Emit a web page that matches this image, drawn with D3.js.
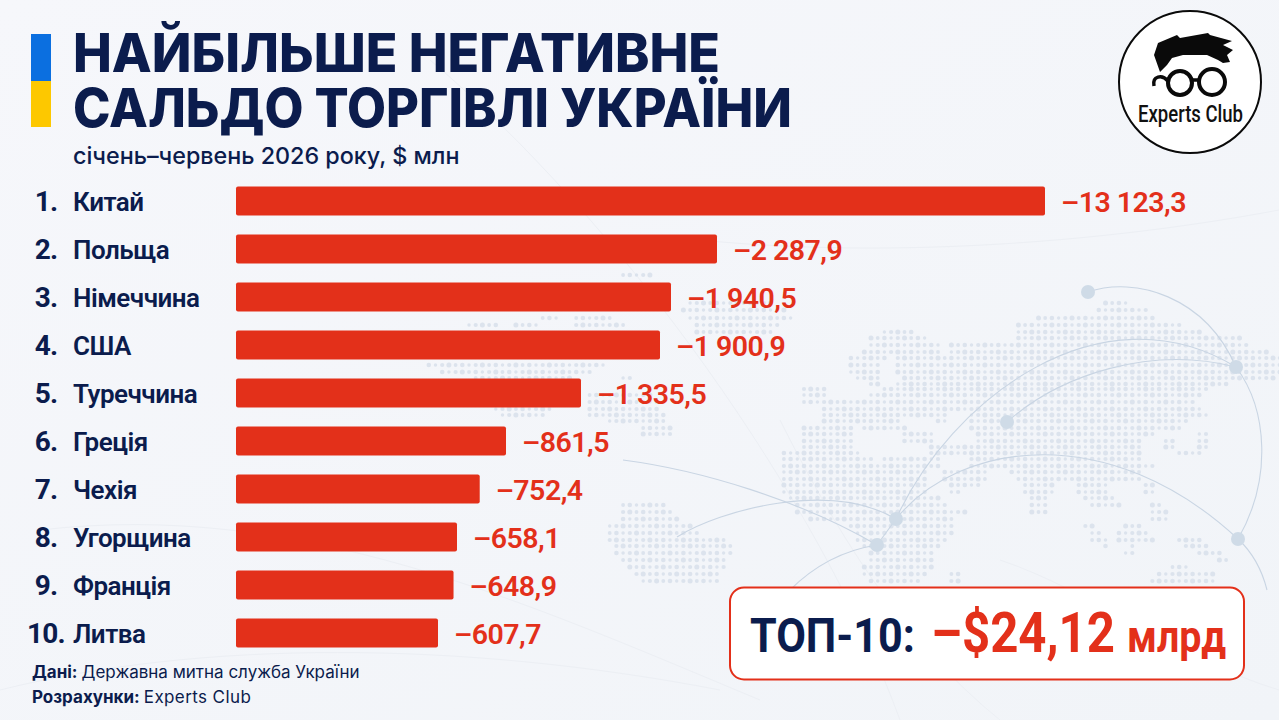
<!DOCTYPE html>
<html lang="uk">
<head>
<meta charset="utf-8">
<script src="https://cdn.jsdelivr.net/npm/d3@7"></script>
<style>
  html, body { margin: 0; padding: 0; background: #f4f6fa; }
  svg { display: block; }
</style>
</head>
<body>
<div id="chart"></div>
<script>
// DATA
const ranks = ["1.", "2.", "3.", "4.", "5.", "6.", "7.", "8.", "9.", "10."];
const countries = ["Китай", "Польща", "Німеччина", "США", "Туреччина", "Греція", "Чехія", "Угорщина", "Франція", "Литва"];
const balances = [-13123.3, -2287.9, -1940.5, -1900.9, -1335.5, -861.5, -752.4, -658.1, -648.9, -607.7];

const titleLines = ["НАЙБІЛЬШЕ НЕГАТИВНЕ", "САЛЬДО ТОРГІВЛІ УКРАЇНИ"];
const titleWidths = [647, 719];
const subtitle = "січень–червень 2026 року, $ млн";

// the picture's bars are not linear in the value, so the scale is piecewise
const scaleKnots = [0, 607.7, 658.1, 861.5, 1335.5, 1900.9, 1940.5, 2287.9, 13123.3];
const scaleLengths = [0, 202, 221, 270, 345, 424, 435, 481, 809];

const totalParts = ["ТОП-10:", "–$24,12", "млрд"];
const totalX = [750, 931, 1127];
const totalWidths = [165, 184, 99];
const totalSizes = [49, 55, 44];

// background map, rows of [y, x0, x1, x0, x1, ...]
const mapRows = [
  [275, 620, 647], [303, 690, 770, 1103, 1127], [310, 685, 785, 1097, 1143],
  [318, 543, 553, 573, 613, 690, 790, 1040, 1150], [325, 472, 497, 513, 537, 573, 623, 700, 780, 1020, 1177],
  [332, 700, 770, 883, 913, 1020, 1197], [338, 870, 927, 1020, 1240], [345, 870, 940, 953, 1243],
  [352, 863, 937, 953, 1267], [358, 850, 887, 897, 1279], [365, 430, 600, 850, 880, 897, 1279],
  [372, 440, 587, 850, 880, 897, 1279], [378, 473, 570, 620, 633, 857, 880, 903, 1270],
  [384, 870, 877, 897, 1227], [389, 807, 825, 887, 1203], [395, 590, 650, 807, 825, 870, 1197],
  [402, 590, 655, 807, 830, 840, 1193], [409, 497, 547, 587, 657, 827, 1197],
  [415, 500, 540, 590, 660, 827, 943, 970, 1203], [421, 610, 663, 827, 897, 940, 947, 970, 1183],
  [428, 640, 670, 807, 850, 863, 903, 970, 1180], [434, 640, 670, 807, 850, 903, 933, 977, 1153, 1197, 1207],
  [441, 807, 850, 903, 933, 977, 1137, 1167, 1170, 1200, 1203], [447, 807, 850, 933, 1140, 1167, 1170, 1200, 1203],
  [453, 787, 860, 930, 1140, 1180, 1200], [459, 787, 870, 883, 937, 970, 1140],
  [466, 787, 937, 970, 1150], [472, 787, 927, 947, 987, 1010, 1140], [479, 787, 927, 947, 983, 1020, 1140],
  [485, 787, 923, 950, 980, 1027, 1053, 1080, 1107, 1147, 1150], [492, 787, 923, 950, 960, 1027, 1050, 1080, 1107, 1147, 1150],
  [498, 790, 937, 1030, 1047, 1087, 1113], [505, 625, 660, 795, 943, 1033, 1043, 1090, 1117, 1153, 1157],
  [512, 620, 670, 800, 943, 953, 967, 1033, 1043, 1153, 1163], [519, 620, 680, 810, 950, 1153, 1163],
  [526, 612, 690, 853, 950, 1087, 1093, 1127, 1140], [533, 610, 695, 857, 950, 1090, 1100, 1117, 1147],
  [540, 612, 725, 857, 943, 1090, 1103, 1117, 1150, 1177, 1200], [546, 615, 730, 863, 937, 1103, 1107, 1130, 1133, 1183, 1207],
  [553, 617, 730, 870, 933, 1123, 1133, 1197, 1220], [560, 625, 725, 870, 933, 1220, 1227],
  [567, 630, 725, 863, 930, 1170, 1187], [574, 635, 720, 863, 923, 950, 960, 1160, 1213],
  [581, 640, 720, 870, 920, 950, 960, 1153, 1213]
];

// flight style arcs on the map
const arcPaths = [
  "M1088,292 C1135,276 1205,296 1236,367",
  "M1236,367 C1268,410 1272,480 1238,539",
  "M1238,539 C1252,552 1262,570 1267,590",
  "M1007,422 C1060,375 1150,345 1236,367",
  "M896,519 C950,400 1100,285 1236,367",
  "M896,519 C960,440 1110,420 1238,539",
  "M896,519 L877,545",
  "M790,590 C815,565 845,550 877,545",
  "M623,460 C700,470 800,500 877,545",
  "M677,537 C720,510 830,480 896,519"
];
const faintPaths = [
  "M40,530 C300,500 520,600 760,700",
  "M430,60 C620,220 820,500 900,720",
  "M780,420 C830,520 900,640 1000,720",
  "M1000,560 C1090,590 1180,660 1279,690",
  "M0,690 C200,640 460,640 720,690",
  "M1279,210 C1120,240 900,260 700,240"
];
const arcNodes = [[1088, 292], [1236, 367], [1007, 422], [896, 519], [877, 545], [1238, 539]];

const hairPoints = [[1160, 72], [1154, 55], [1158, 43], [1177, 35], [1180, 38], [1208, 33], [1210, 35], [1232, 41], [1223, 45], [1233, 50], [1227, 55], [1230, 62], [1223, 63], [1218, 60], [1207, 55], [1183, 55], [1172, 58], [1167, 65]];

const width = 1279;
const height = 720;
const navy = "#0b1c4d";
const red = "#e3301a";

const svg = d3.select("#chart").append("svg")
  .attr("width", width)
  .attr("height", height)
  .attr("font-family", "Roboto, Inter, sans-serif");

const bg = svg.append("defs").append("linearGradient")
  .attr("id", "bg").attr("x1", 0).attr("y1", 0).attr("x2", 1).attr("y2", 1);
bg.append("stop").attr("offset", 0).attr("stop-color", "#f6f7fb");
bg.append("stop").attr("offset", 1).attr("stop-color", "#f1f4f8");
svg.append("rect").attr("width", width).attr("height", height).attr("fill", "url(#bg)");

// BACKGROUND MAP
svg.append("g").attr("fill", "none").attr("stroke", "#eceff4").attr("stroke-width", 1)
  .selectAll("path").data(faintPaths).join("path").attr("d", d => d);

const step = 6.7;
const dots = [];
mapRows.forEach(row => {
  for (let k = 1; k < row.length; k += 2) {
    const first = Math.round(row[k] / step);
    const last = Math.round(row[k + 1] / step);
    d3.range(first, last + 1).forEach(n => dots.push({ x: n * step, y: row[0], n: n }));
  }
});
svg.append("g").selectAll("circle").data(dots).join("circle")
  .attr("cx", d => d.x)
  .attr("cy", d => d.y)
  .attr("r", d => 1.7 + ((d.n * 7 + d.y * 3) % 5) * 0.2)
  .attr("fill", "#d6dfea")
  .attr("opacity", 0.8);

svg.append("g").attr("fill", "none").attr("stroke", "#c9d5e3").attr("stroke-width", 1.1)
  .selectAll("path").data(arcPaths).join("path").attr("d", d => d);
svg.append("g").selectAll("circle").data(arcNodes).join("circle")
  .attr("cx", d => d[0]).attr("cy", d => d[1]).attr("r", 7)
  .attr("fill", "#cfdbe7");

// HEADER
svg.append("rect").attr("x", 31).attr("y", 34).attr("width", 20).attr("height", 47).attr("fill", "#0b6fe0");
svg.append("rect").attr("x", 31).attr("y", 81).attr("width", 20).attr("height", 46).attr("fill", "#fdc800");

svg.selectAll(".title").data(titleLines).join("text")
  .attr("class", "title")
  .attr("x", 73)
  .attr("y", (d, i) => 71.5 + i * 55.5)
  .attr("textLength", (d, i) => titleWidths[i])
  .attr("lengthAdjust", "spacingAndGlyphs")
  .attr("fill", navy)
  .attr("font-family", "Inter")
  .attr("font-size", 54)
  .attr("font-weight", 800)
  .text(d => d);

svg.append("text")
  .attr("x", 73).attr("y", 164)
  .attr("fill", navy)
  .attr("font-family", "Inter")
  .attr("font-size", 23.3)
  .attr("font-weight", 500)
  .text(subtitle);

// LOGO
const logo = svg.append("g");
logo.append("circle").attr("cx", 1190).attr("cy", 82).attr("r", 71)
  .attr("fill", "#fff").attr("stroke", "#0a0a0a").attr("stroke-width", 2);
logo.append("path")
  .attr("d", d3.line().curve(d3.curveLinearClosed)(hairPoints))
  .attr("fill", "#0a0a0a");
logo.selectAll(".lens").data([[1180, 83, 12], [1212, 82, 13]]).join("circle")
  .attr("class", "lens")
  .attr("cx", d => d[0]).attr("cy", d => d[1]).attr("r", d => d[2])
  .attr("fill", "none").attr("stroke", "#0a0a0a").attr("stroke-width", 4);
logo.append("path")
  .attr("d", "M1168,81 C1162,74 1152,76 1154,86 M1192,80 L1199,80")
  .attr("fill", "none").attr("stroke", "#0a0a0a").attr("stroke-width", 3.5);
logo.append("text")
  .attr("x", 1138).attr("y", 121.5)
  .attr("textLength", 105).attr("lengthAdjust", "spacingAndGlyphs")
  .attr("fill", "#111")
  .attr("font-size", 23)
  .attr("font-weight", 500)
  .text("Experts Club");

// BARS
const y = d3.scaleBand()
  .domain(countries)
  .range([177, 657])
  .paddingInner(0.396)
  .paddingOuter(0.198);

const length = d3.scaleLinear()
  .domain(scaleKnots)
  .range(scaleLengths);

const x0 = 236;
const locale = d3.formatLocale({ decimal: ",", thousands: " ", grouping: [3], currency: ["$", ""], minus: "–" });
const fmt = locale.format(",.1f");

const rows = svg.append("g").selectAll("g")
  .data(countries.map((c, i) => ({ rank: ranks[i], country: c, value: balances[i] })))
  .join("g")
  .attr("transform", d => `translate(0,${y(d.country)})`);

rows.append("rect")
  .attr("x", x0)
  .attr("width", d => length(Math.abs(d.value)))
  .attr("height", y.bandwidth())
  .attr("rx", 2)
  .attr("fill", red);

rows.append("text")
  .attr("x", 46)
  .attr("y", y.bandwidth() / 2 + 10)
  .attr("text-anchor", "middle")
  .attr("fill", navy)
  .attr("font-size", 28)
  .attr("font-weight", 700)
  .attr("letter-spacing", -0.8)
  .text(d => d.rank);

rows.append("text")
  .attr("x", 73)
  .attr("y", y.bandwidth() / 2 + 10)
  .attr("fill", navy)
  .attr("font-size", 26)
  .attr("font-weight", 600)
  .attr("letter-spacing", -0.5)
  .text(d => d.country);

rows.append("text")
  .attr("x", d => x0 + length(Math.abs(d.value)) + 16)
  .attr("y", y.bandwidth() / 2 + 11)
  .attr("fill", red)
  .attr("font-size", 28.5)
  .attr("font-weight", 600)
  .attr("letter-spacing", -0.5)
  .text(d => fmt(d.value));

// TOTAL BOX
svg.append("rect")
  .attr("x", 730).attr("y", 587.5).attr("width", 514).attr("height", 92)
  .attr("rx", 14)
  .attr("fill", "#fff")
  .attr("stroke", red)
  .attr("stroke-width", 2);

svg.selectAll(".total").data(totalParts).join("text")
  .attr("class", "total")
  .attr("x", (d, i) => totalX[i])
  .attr("y", 652)
  .attr("textLength", (d, i) => totalWidths[i])
  .attr("lengthAdjust", "spacingAndGlyphs")
  .attr("fill", (d, i) => i === 0 ? navy : red)
  .attr("font-size", (d, i) => totalSizes[i])
  .attr("font-weight", 700)
  .text(d => d);

// SOURCES
const sources = svg.append("g").attr("fill", navy).attr("font-family", "Inter").attr("font-size", 17);
const line1 = sources.append("text").attr("x", 32).attr("y", 678);
line1.append("tspan").attr("font-weight", 700).text("Дані: ");
line1.append("tspan").attr("font-weight", 400).text("Державна митна служба України");
const line2 = sources.append("text").attr("x", 32).attr("y", 703);
line2.append("tspan").attr("font-weight", 700).text("Розрахунки: ");
line2.append("tspan").attr("font-weight", 400).attr("letter-spacing", 0.4).text("Experts Club");
</script>
</body>
</html>
